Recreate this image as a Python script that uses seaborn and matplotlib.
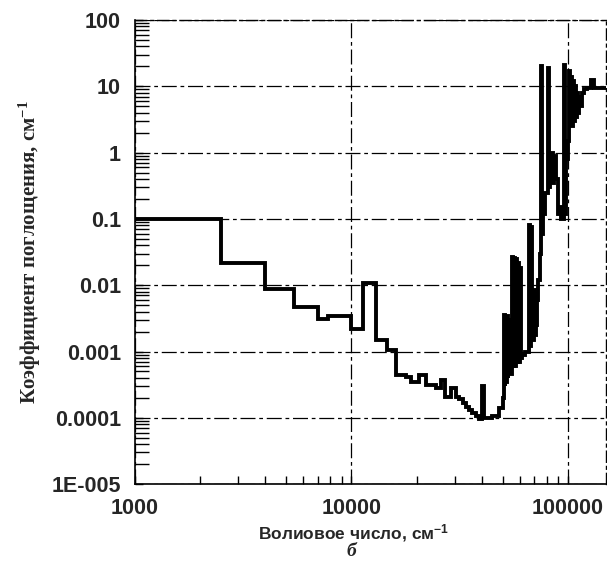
import matplotlib
matplotlib.use("Agg")
import matplotlib.pyplot as plt
import matplotlib.ticker as mticker
import numpy as np
import pandas as pd
import seaborn as sns

# Absorption coefficient spectrum (stair-step curve), wavenumber in cm^-1
wavenumber = [
    1000, 2500, 4000, 5450, 6970, 7800, 10000, 11350, 13000, 14600,
    16070, 17870, 18840, 20570, 21000, 22070, 24540, 25880, 27100, 28780,
    29830, 30370, 31500, 32600, 33800, 35000, 36200, 37500, 38870, 40300,
    40900, 41800, 44800, 48100, 50200,
    50700, 51000, 51400, 51800, 52200, 52600, 53000, 53500,
    55200, 55700, 56200, 56800, 57400, 58000, 58600, 59300, 60000, 60700,
    61400, 63500, 66100, 66700, 67300, 67900, 69700, 70300, 70900, 71500,
    72200, 73000, 74200, 75300, 75900, 77000, 78500, 80500, 81000, 81700,
    83000, 84300, 85500, 86500, 88000, 90000, 91500, 93000, 95800, 96800,
    98500, 100500, 101500, 102500, 103500, 104500, 105500, 106500, 107500,
    108500, 110000, 111500, 113000, 114500, 116000, 119000, 123000, 128000,
    132000, 137000, 150000,
]
absorption = [
    0.1, 0.022, 0.0088, 0.0047, 0.0031, 0.0034, 0.0022, 0.0108, 0.00148, 0.00105,
    0.000443, 0.000408, 0.000351, 0.000443, 0.000443, 0.000313, 0.000279, 0.000372, 0.000208, 0.000279,
    0.000279, 0.000208, 0.00019, 0.00017, 0.000148, 0.00013, 0.000117, 0.000105, 0.0000975, 0.0003,
    0.0001, 0.0001, 0.000107, 0.000139, 0.0002,
    0.0035, 0.0003, 0.0033, 0.00035, 0.0034, 0.0004, 0.003, 0.00045,
    0.027, 0.0006, 0.026, 0.0006, 0.025, 0.0007, 0.022, 0.0007, 0.018, 0.0008,
    0.0009, 0.001, 0.08, 0.0012, 0.075, 0.0015, 0.0085, 0.0018, 0.008, 0.0025,
    0.006, 0.012, 0.03, 20.0, 0.06, 0.12, 0.25, 0.5, 19.0, 0.3,
    0.6, 1.0, 0.35, 0.9, 0.4, 0.12, 0.15, 0.1, 21.0, 0.12,
    0.8, 1.5, 17.0, 3.0, 14.0, 2.5, 12.0, 3.0, 10.0,
    3.5, 8.0, 4.0, 7.0, 5.0, 8.0, 9.0, 9.5, 12.5,
    9.5, 9.5, 9.5,
]

x_ticks = [1000, 10000, 100000]
x_tick_labels = ["1000", "10000", "100000"]
y_ticks = [1e-5, 1e-4, 1e-3, 1e-2, 1e-1, 1, 10, 100]
y_tick_labels = ["1E-005", "0.0001", "0.001", "0.01", "0.1", "1", "10", "100"]

x_label = "Волиовое число, см$^{-1}$"
y_label = "Коэффициент поглощения, см$^{-1}$"
panel_label = "б"

sns.set_theme(style="white")
plt.rcParams["font.family"] = ["Liberation Sans", "DejaVu Sans"]
plt.rcParams["mathtext.default"] = "regular"

df = pd.DataFrame({"wn": wavenumber, "k": absorption})

fig = plt.figure(figsize=(6.07, 5.77), dpi=100)
ax = fig.add_axes([0.2224, 0.161, 0.776, 0.8043])

sns.lineplot(data=df, x="wn", y="k", ax=ax, color="black", linewidth=2.8,
             drawstyle="steps-post", estimator=None, sort=False,
             solid_joinstyle="miter", solid_capstyle="butt")

ax.set_xscale("log")
ax.set_yscale("log")
ax.set_xlim(1000, 150000)
ax.set_ylim(1e-5, 100)

ax.set_xticks(x_ticks)
ax.set_xticklabels(x_tick_labels)
ax.set_yticks(y_ticks)
ax.set_yticklabels(y_tick_labels)
ax.xaxis.set_minor_locator(mticker.LogLocator(base=10, subs=np.arange(2, 10)))
ax.yaxis.set_minor_locator(mticker.LogLocator(base=10, subs=np.arange(2, 10), numticks=20))
ax.xaxis.set_minor_formatter(mticker.NullFormatter())
ax.yaxis.set_minor_formatter(mticker.NullFormatter())

for lab in ax.get_xticklabels() + ax.get_yticklabels():
    lab.set_fontweight("bold")
    lab.set_fontsize(15.5)

ax.tick_params(axis="both", which="major", direction="in", length=6, width=1.0,
               color="black", bottom=True, left=True)
ax.tick_params(axis="x", which="major", pad=10)
ax.tick_params(axis="y", which="major", pad=10)
ax.tick_params(axis="x", which="minor", direction="in", length=6, width=1.0,
               color="black", bottom=True)
ax.tick_params(axis="y", which="minor", direction="in", length=10, width=1.0,
               color="black", left=True)

ax.grid(True, which="major", color="black", linewidth=0.9,
        linestyle=(0, (12, 3, 3, 3)))

for side in ["left", "bottom"]:
    ax.spines[side].set_color("black")
    ax.spines[side].set_linewidth(1.2)
for side in ["top", "right"]:
    ax.spines[side].set_color("black")
    ax.spines[side].set_linewidth(1.0)
    ax.spines[side].set_linestyle((0, (8, 3, 2, 3)))

ax.set_xlabel(x_label, fontsize=12.5, fontweight="bold")
ax.xaxis.set_label_coords(0.465, -0.081)
ax.set_ylabel(y_label, fontsize=15, fontweight="bold",
              family=["Liberation Serif", "DejaVu Serif"], labelpad=6)

fig.text(0.579, 0.045, panel_label, fontsize=14, fontweight="bold",
         fontstyle="italic", family=["Liberation Serif", "DejaVu Serif"],
         ha="center", va="center")

fig.savefig("out.png", dpi=100, facecolor="white")
